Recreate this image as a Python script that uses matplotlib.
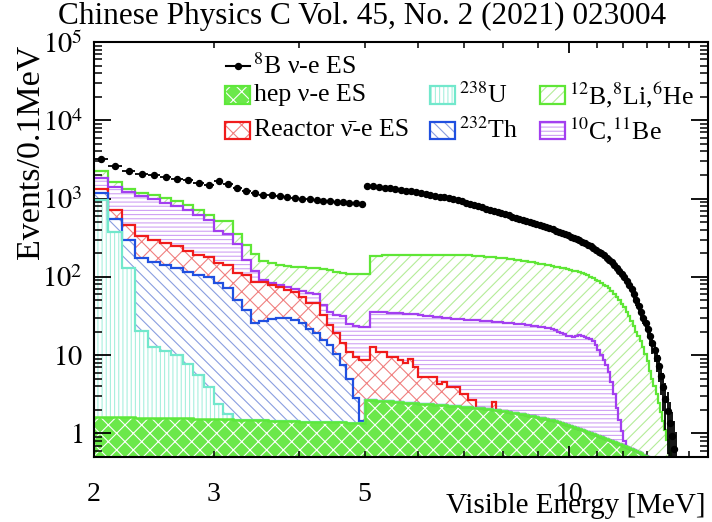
import numpy as np
import matplotlib
matplotlib.use('Agg')
import matplotlib.pyplot as plt
from matplotlib.patches import Rectangle
from matplotlib.lines import Line2D
from matplotlib.ticker import FixedLocator, FuncFormatter, LogLocator, NullFormatter

plt.rcParams['font.family'] = ['Liberation Serif', 'DejaVu Serif']
plt.rcParams['mathtext.fontset'] = 'stix'
plt.rcParams['hatch.linewidth'] = 0.8

# ---------------- data (log10 of events per 0.1 MeV, stacked tops) ----------------
bin_start, bin_stop, bin_width = 2.0, 16.0, 0.1

# hep nu-e ES (bottom of stack)
log_hep = [0.212, 0.209, 0.206, 0.203, 0.200, 0.197, 0.194, 0.191, 0.188, 0.185,
           0.182, 0.179, 0.176, 0.173, 0.170, 0.167, 0.164, 0.161, 0.158, 0.155,
           0.152, 0.150, 0.148, 0.146, 0.144, 0.142, 0.140, 0.138, 0.136, 0.134,
           0.430, 0.425, 0.420, 0.415, 0.410, 0.405, 0.400, 0.395, 0.390, 0.385,
           0.380, 0.375, 0.370, 0.366, 0.362, 0.358, 0.354, 0.350, 0.346, 0.342,
           0.338, 0.334, 0.330, 0.325, 0.320, 0.315, 0.310, 0.305, 0.298, 0.291,
           0.283, 0.275, 0.267, 0.259, 0.251, 0.243, 0.235, 0.227, 0.219, 0.210,
           0.200, 0.192, 0.184, 0.175, 0.166, 0.155, 0.142, 0.129, 0.116, 0.103,
           0.090, 0.077, 0.064, 0.051, 0.038, 0.025, 0.012, 0.000, -0.012, -0.024,
           -0.036, -0.048, -0.060, -0.072, -0.084, -0.096, -0.108, -0.120, -0.132, -0.145,
           -0.158, -0.171, -0.184, -0.197, -0.210, -0.224, -0.239, -0.254, -0.270, -0.286,
           -0.303, -0.330, -0.360]

# 238U (stack top)
log_u238 = [2.987, 2.568, 2.110, 1.312, 1.106, 1.055, 1.000, 0.885, 0.744, 0.594,
            0.380, 0.252]

# 232Th (stack top)
log_th232 = [3.073, 2.744, 2.474, 2.240, 2.196, 2.154, 2.111, 2.068, 2.026, 2.004,
             1.919, 1.855, 1.705, 1.580, 1.410, 1.430, 1.460, 1.470, 1.470, 1.450,
             1.410, 1.340, 1.280, 1.190, 1.130, 1.020, 0.870, 0.700, 0.450, 0.160]

# Reactor anti-nu e ES (stack top)
log_reactor = [3.124, 2.859, 2.667, 2.517, 2.474, 2.432, 2.389, 2.325, 2.282, 2.250,
               2.180, 2.154, 2.047, 2.026, 1.940, 1.930, 1.897, 1.876, 1.830, 1.812,
               1.747, 1.662, 1.662, 1.513, 1.385, 1.278, 1.150, 1.040, 0.978, 0.936,
               0.936, 1.106, 1.042, 1.042, 0.978, 0.978, 0.936, 0.894, 0.945, 0.850,
               0.722, 0.722, 0.722, 0.722, 0.637, 0.658, 0.594, 0.594, 0.594, 0.509,
               0.509, 0.423, 0.423, None, None, None, None, 0.400]

# 10C, 11Be (stack top)
log_c10 = [3.265, 3.145, 3.081, 3.030, 2.996, 2.945, 2.910, 2.859, 2.795, 2.720,
           2.590, 2.550, 2.420, 2.220, 2.070, 1.960, 1.920, 1.900, 1.870, 1.840,
           1.820, 1.800, 1.780, 1.640, 1.550, 1.510, 1.500, 1.400, 1.370, 1.360,
           1.360, 1.555, 1.550, 1.545, 1.540, 1.535, 1.532, 1.530, 1.527, 1.530,
           1.515, 1.505, 1.500, 1.493, 1.485, 1.478, 1.470, 1.465, 1.462, 1.458,
           1.455, 1.452, 1.448, 1.445, 1.441, 1.437, 1.433, 1.428, 1.424, 1.420,
           1.416, 1.412, 1.408, 1.404, 1.400, 1.395, 1.389, 1.383, 1.376, 1.369,
           1.362, 1.355, 1.348, 1.341, 1.333, 1.318, 1.300, 1.282, 1.265, 1.250,
           1.240, 1.235, 1.245, 1.255, 1.245, 1.230, 1.215, 1.200, 1.180, 1.130,
           1.064, 1.000, 0.940, 0.880, 0.790, 0.660, 0.500, 0.330, 0.170, 0.030,
           -0.100, -0.170]

# 12B, 8Li, 6He (stack top)
log_b12 = [3.350, 3.209, 3.124, 3.073, 3.051, 3.009, 2.965, 2.923, 2.859, 2.795,
           2.709, 2.709, 2.551, 2.404, 2.295, 2.205, 2.176, 2.154, 2.141, 2.132,
           2.128, 2.115, 2.109, 2.096, 2.083, 2.064, 2.051, 2.038, 2.035, 2.032,
           2.032, 2.269, 2.271, 2.273, 2.275, 2.277, 2.279, 2.280, 2.281, 2.282,
           2.283, 2.283, 2.283, 2.283, 2.282, 2.282, 2.281, 2.280, 2.279, 2.277,
           2.275, 2.273, 2.270, 2.267, 2.264, 2.260, 2.256, 2.252, 2.247, 2.242,
           2.236, 2.230, 2.224, 2.218, 2.212, 2.206, 2.199, 2.192, 2.185, 2.178,
           2.170, 2.162, 2.154, 2.146, 2.140, 2.132, 2.124, 2.116, 2.108, 2.099,
           2.090, 2.080, 2.070, 2.058, 2.046, 2.033, 2.018, 2.002, 1.985, 1.966,
           1.946, 1.924, 1.900, 1.880, 1.855, 1.820, 1.781, 1.744, 1.703, 1.658,
           1.609, 1.556, 1.498, 1.436, 1.369, 1.300, 1.250, 1.180, 1.100, 1.010,
           0.920, 0.800, 0.700, 0.600, 0.500, 0.390, 0.280, 0.160, 0.040, -0.080,
           -0.220, -0.400]

# 8B nu-e ES data points
log_b8 = [3.500, 3.410, 3.350, 3.317, 3.295, 3.273, 3.256, 3.231, 3.201, 3.171,
          3.227, 3.186, 3.137, 3.094, 3.073, 3.051, 3.042, 3.029, 3.022, 3.009,
          3.000, 2.991, 2.983, 2.974, 2.965, 2.958, 2.951, 2.945, 2.940, 2.936,
          3.164, 3.156, 3.148, 3.140, 3.131, 3.122, 3.112, 3.102, 3.092, 3.082,
          3.071, 3.060, 3.049, 3.038, 3.026, 3.014, 3.002, 2.990, 2.977, 2.964,
          2.948, 2.932, 2.917, 2.901, 2.886, 2.870, 2.855, 2.840, 2.826, 2.812,
          2.798, 2.784, 2.770, 2.756, 2.742, 2.728, 2.714, 2.700, 2.688, 2.676,
          2.664, 2.651, 2.637, 2.622, 2.607, 2.592, 2.577, 2.562, 2.547, 2.531,
          2.515, 2.499, 2.482, 2.465, 2.447, 2.428, 2.409, 2.389, 2.368, 2.346,
          2.323, 2.299, 2.273, 2.246, 2.217, 2.186, 2.153, 2.118, 2.080, 2.040,
          1.997, 1.950, 1.898, 1.842, 1.780, 1.700, 1.630, 1.550, 1.480, 1.410,
          1.330, 1.240, 1.150, 1.060, 0.960, 0.860, 0.730, 0.590, 0.440, 0.290,
          0.130, -0.030, -0.200, -0.400]

x_ticks = [2, 3, 5, 10]
y_ticks = [1, 10, 100, 1e3, 1e4, 1e5]
y_ticklabels = ['$1$', '$10$', '$10^{2}$', '$10^{3}$', '$10^{4}$', '$10^{5}$']

# ---------------- build ----------------
edges = np.round(np.arange(bin_start, bin_stop + 1e-9, bin_width), 2)
nb = len(edges) - 1
centers = edges[:-1] + bin_width / 2


def expand(lst):
    a = np.full(nb, np.nan)
    v = np.array(lst, dtype=float)
    a[:len(v)] = 10.0 ** v
    return a


floor = 1e-3
hep_top = np.nan_to_num(expand(log_hep), nan=floor)
u_top = np.fmax(expand(log_u238), hep_top)
th_top = np.fmax(expand(log_th232), u_top)
re_top = np.fmax(expand(log_reactor), th_top)
c_top = np.fmax(expand(log_c10), re_top)
b_top = np.fmax(expand(log_b12), c_top)
b8 = expand(log_b8)

fig = plt.figure(figsize=(7.12, 5.22), dpi=100)
W, H = 712.0, 522.0
ax = fig.add_axes([94 / W, 1 - 457 / H, (708 - 94) / W, (457 - 42) / H])
ax.set_xscale('log')
ax.set_yscale('log')
ax.set_xlim(2, 16)
ax.set_ylim(0.5, 1e5)

c_green = '#5fe636'
c_purple = '#a33ff0'
c_red = '#f01c1c'
c_blue = '#2050e0'
c_cyan = '#72e8cc'
c_hep = '#5ee83a'

layers = [
    (c_top, b_top, c_green, '///', '#b4ec98'),
    (re_top, c_top, c_purple, '----', '#cfa2f4'),
    (th_top, re_top, c_red, 'xx', '#f08080'),
    (u_top, th_top, c_blue, '\\\\\\', '#8a9ee0'),
    (hep_top, u_top, c_cyan, '||||', '#a8f0de'),
]
for lower, upper, lc, hatch, hc in layers:
    ax.fill_between(edges, np.append(lower, lower[-1]), np.append(upper, upper[-1]),
                    step='post', facecolor='none', edgecolor=hc, hatch=hatch,
                    linewidth=0, zorder=1)
    ax.stairs(upper, edges, color=lc, linewidth=1.6, baseline=None, zorder=2)

# hep layer
ax.fill_between(edges, floor, np.append(hep_top, hep_top[-1]), step='post',
                facecolor='#6be84a', edgecolor='white', hatch='xx', linewidth=0, zorder=1)
ax.stairs(hep_top, edges, color=c_hep, linewidth=1.8, baseline=None, zorder=2)

# 8B points with Poisson error bars
valid = ~np.isnan(b8)
err = np.sqrt(b8[valid])
err_lo = np.minimum(err, b8[valid] * 0.999)
ax.errorbar(centers[valid], b8[valid], xerr=bin_width / 2, yerr=[err_lo, err],
            fmt='o', color='black', ms=4.3, elinewidth=1.3, capsize=0, zorder=4)

# axes styling
for s in ax.spines.values():
    s.set_linewidth(1.5)
ax.xaxis.set_major_locator(FixedLocator([10]))
ax.xaxis.set_minor_locator(FixedLocator([2, 3, 4, 5, 6, 7, 8, 9, 11, 12, 13, 14, 15, 16]))
ax.xaxis.set_major_formatter(FuncFormatter(lambda v, p: '10'))
ax.xaxis.set_minor_formatter(FuncFormatter(lambda v, p: ('%d' % round(v)) if round(v) in x_ticks else ''))
ax.set_yticks(y_ticks)
ax.set_yticklabels(y_ticklabels)
ax.yaxis.set_minor_locator(LogLocator(base=10, subs=np.arange(2, 10)))
ax.yaxis.set_minor_formatter(NullFormatter())
ax.tick_params(axis='y', which='major', direction='in', length=12, width=1.3,
               left=True, right=True, labelsize=20.5, pad=8)
ax.tick_params(axis='y', which='minor', direction='in', length=6, width=1.1,
               left=True, right=True)
ax.tick_params(axis='x', which='major', direction='in', length=8, width=1.3,
               bottom=True, top=True, labelsize=20, pad=18)
ax.tick_params(axis='x', which='minor', direction='in', length=4.5, width=1.1,
               bottom=True, top=True, labelsize=20, pad=18)

# texts
fig.text(362 / W, 1 - 16 / H, 'Chinese Physics C Vol. 45, No. 2 (2021) 023004',
         ha='center', va='center', fontsize=22.5)
fig.text(30 / W, 1 - 152 / H, 'Events/0.1MeV', rotation=90, ha='center', va='center',
         fontsize=24.5)
fig.text(706 / W, 1 - 506 / H, 'Visible Energy [MeV]', ha='right', va='center',
         fontsize=21)

# legend (manual)
def fx(X):
    return X / W


def fy(Y):
    return 1 - Y / H


leg_fs = 18.5
fig.add_artist(Line2D([fx(226), fx(250)], [fy(66), fy(66)], color='black', lw=1.5,
                      transform=fig.transFigure))
fig.add_artist(Line2D([fx(238)], [fy(66)], color='black', marker='o', ms=4.3,
                      transform=fig.transFigure))
fig.text(fx(253), fy(66), '$^{8}$B ν-e ES', ha='left', va='center', fontsize=leg_fs)

entries = [
    (225, 95, c_hep, 'xx', 'white', '#6be84a', 'hep ν-e ES'),
    (430, 95, c_cyan, '||||', '#a8f0de', 'none', '$^{238}$U'),
    (540, 95, c_green, '///', '#b4ec98', 'none', '$^{12}$B,$^{8}$Li,$^{6}$He'),
    (225, 130, c_red, 'xx', '#f08080', 'none', 'Reactor ν\u0304-e ES'),
    (430, 130, c_blue, '\\\\\\', '#8a9ee0', 'none', '$^{232}$Th'),
    (540, 130, c_purple, '----', '#cfa2f4', 'none', '$^{10}$C,$^{11}$Be'),
]
bw, bh = 25, 17
for X, Y, lc, hatch, hc, face, label in entries:
    r1 = Rectangle((fx(X), fy(Y + bh / 2)), bw / W, bh / H, transform=fig.transFigure,
                   facecolor=face, edgecolor=hc, hatch=hatch, linewidth=0)
    r2 = Rectangle((fx(X), fy(Y + bh / 2)), bw / W, bh / H, transform=fig.transFigure,
                   fill=False, edgecolor=lc, linewidth=1.6)
    fig.add_artist(r1)
    fig.add_artist(r2)
    fig.text(fx(X + bw + 4), fy(Y), label, ha='left', va='center', fontsize=leg_fs)

fig.savefig('out.png', dpi=100)
